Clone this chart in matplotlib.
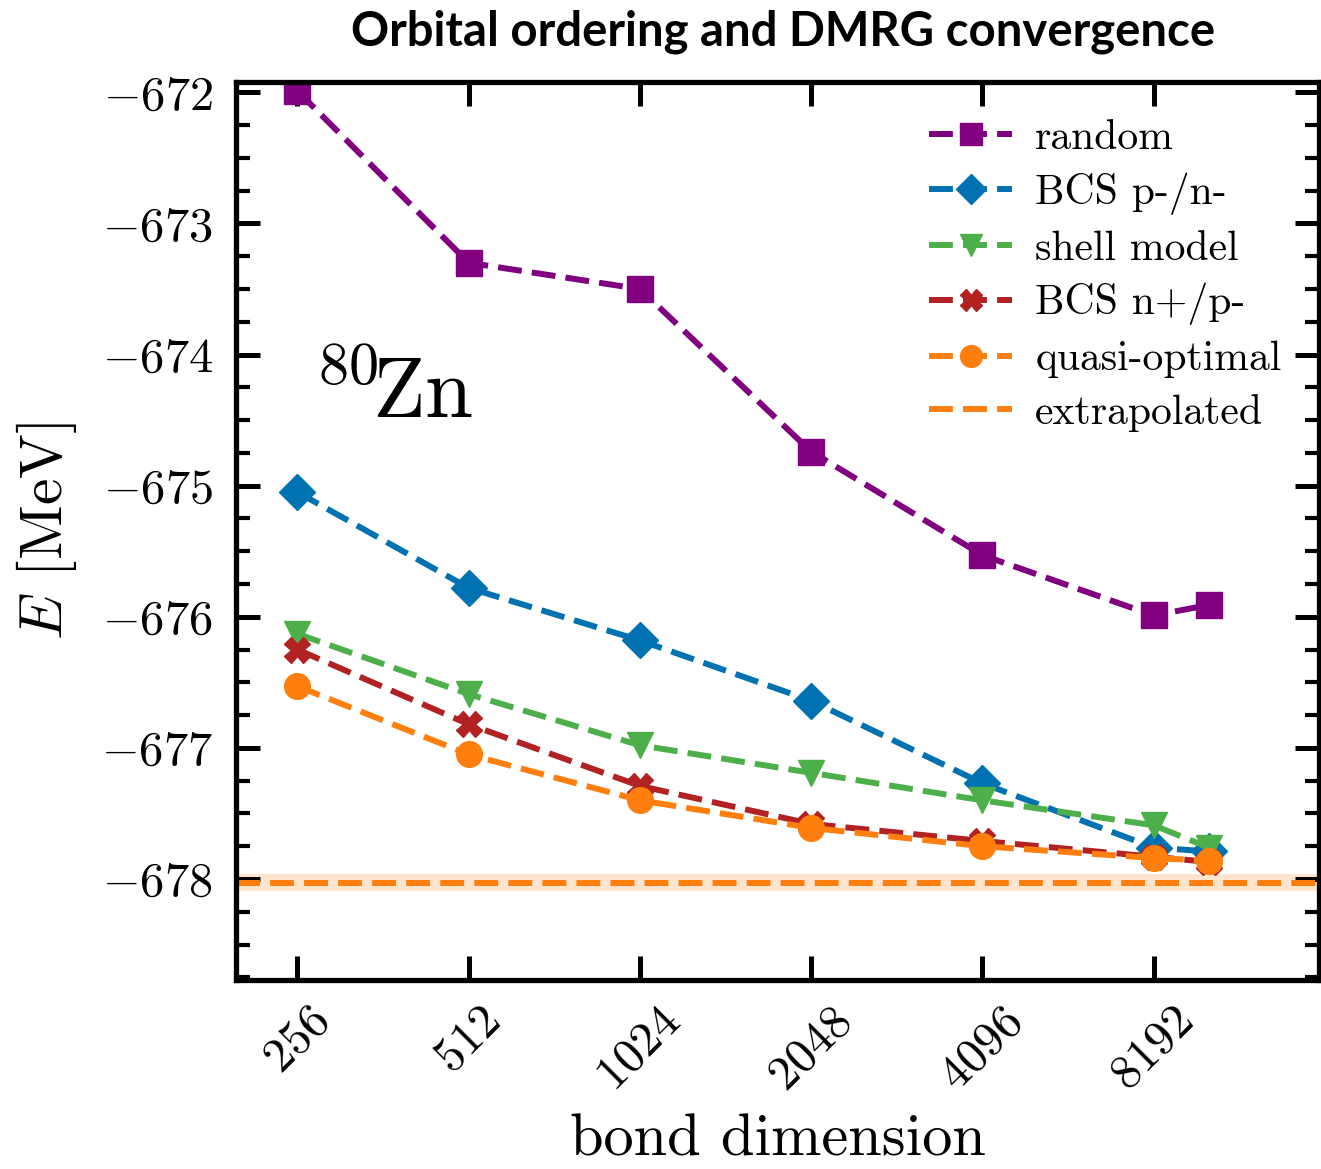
import matplotlib
matplotlib.use("Agg")
import matplotlib.pyplot as plt
from matplotlib.ticker import FixedLocator, NullLocator, MultipleLocator

# ------------------------------------------------------------
# data (energies in MeV)
# ------------------------------------------------------------
bond_dim = [256, 512, 1024, 2048, 4096, 8192, 10240]
tick_dims = [256, 512, 1024, 2048, 4096, 8192]

e_random = [-671.99, -673.30, -673.50, -674.74, -675.53, -675.99, -675.91]
e_bcs_pn = [-675.05, -675.78, -676.18, -676.64, -677.27, -677.76, -677.79]
e_shell = [-676.13, -676.59, -676.98, -677.19, -677.40, -677.59, -677.76]
e_bcs_np = [-676.25, -676.82, -677.29, -677.58, -677.71, -677.83, -677.87]
e_quasi = [-676.53, -677.05, -677.40, -677.61, -677.75, -677.84, -677.86]

e_extrap = -678.03
e_extrap_err = 0.065

series = [
    ("random", e_random, "#800080", "s"),
    ("BCS p-/n-", e_bcs_pn, "#0072b2", "D"),
    ("shell model", e_shell, "#4daf4a", "v"),
    ("BCS n+/p-", e_bcs_np, "#b22222", "X"),
    ("quasi-optimal", e_quasi, "#ff7f0e", "o"),
]

plt.rcParams["font.family"] = ["cmr10"]
plt.rcParams["mathtext.fontset"] = "cm"
plt.rcParams["axes.formatter.use_mathtext"] = True

LW = 4.3
DASH = (4.0, 1.7)

fig = plt.figure(figsize=(13.21, 11.69), dpi=100)
ax = fig.add_axes([0.179, 0.1617, 0.8195, 0.7683])

for label, vals, color, marker in series:
    ax.plot(bond_dim, vals, linestyle="--", dashes=DASH, marker=marker, color=color,
            lw=LW, markersize=18.5, label=label)

ax.axhspan(e_extrap - e_extrap_err, e_extrap + e_extrap_err,
           color="#ff7f0e", alpha=0.2, lw=0)
ax.axhline(e_extrap, color="#ff7f0e", linestyle="--", dashes=DASH, lw=LW,
           label="extrapolated")

ax.set_xscale("log", base=2)
ax.set_xlim(200, 16000)
ax.set_ylim(-678.77, -671.92)

ax.xaxis.set_major_locator(FixedLocator(tick_dims))
ax.xaxis.set_minor_locator(NullLocator())
ax.set_xticklabels([f"${d}$" for d in tick_dims], rotation=45, ha="center")
ax.yaxis.set_major_locator(MultipleLocator(1))
ax.yaxis.set_minor_locator(MultipleLocator(0.25))
ax.set_yticks(range(-678, -671))
ax.set_yticklabels([f"$-{abs(v)}$" for v in range(-678, -671)])

ax.tick_params(which="both", direction="in", top=True, right=True, labelsize=35)
ax.tick_params(which="major", length=17, width=3.6, pad=17)
ax.tick_params(which="minor", length=10, width=3)
ax.tick_params(axis="x", which="major", pad=14)
for sp in ax.spines.values():
    sp.set_linewidth(3.8)

ax.set_xlabel("bond dimension", fontsize=43.5, labelpad=10)
ax.set_ylabel(r"$E$ [MeV]", fontsize=43, labelpad=16)

ax.text(0.073, 0.626, r"$^{80}\!$Zn", transform=ax.transAxes, fontsize=62,
        ha="left", va="baseline")

ax.legend(loc="upper right", frameon=False, fontsize=30, handlelength=2.0,
          handletextpad=0.55, labelspacing=0.37, borderaxespad=0.5,
          markerscale=0.85)

ax.set_title("Orbital ordering and DMRG convergence", fontsize=34,
             fontweight="bold", family="Lato", pad=26, x=0.505)

fig.savefig("out.png", dpi=100)
